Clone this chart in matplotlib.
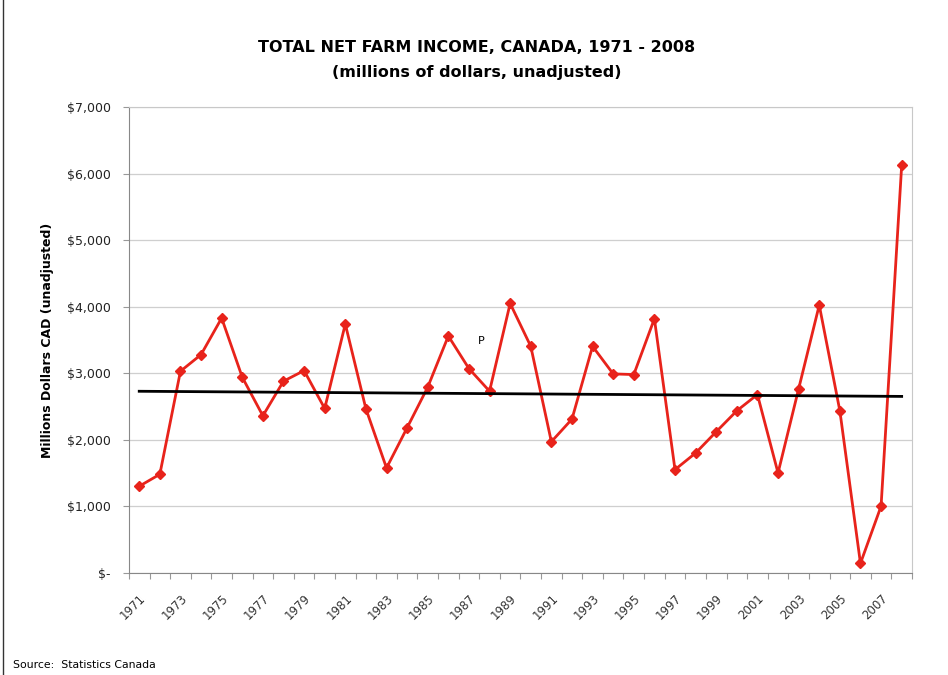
import numpy as np
import matplotlib.pyplot as plt
from matplotlib.lines import Line2D
from matplotlib.transforms import ScaledTranslation

years = list(range(1971, 2009))
income = [1300, 1480, 3030, 3280, 3830, 2940, 2360, 2880, 3040, 2470,
          3740, 2465, 1575, 2180, 2790, 3560, 3070, 2730, 4050, 3405,
          1970, 2310, 3405, 2990, 2980, 3820, 1550, 1800, 2120, 2435,
          2680, 1500, 2765, 4025, 2435, 140, 1000, 6125]
y_ticks = [0, 1000, 2000, 3000, 4000, 5000, 6000, 7000]
y_labels = ["$-", "$1,000", "$2,000", "$3,000", "$4,000", "$5,000", "$6,000", "$7,000"]

plt.rcParams['font.family'] = ['DejaVu Sans']

fig = plt.figure(figsize=(9.48, 6.75), dpi=100)
ax = fig.add_axes([0.136, 0.1516, 0.826, 0.6894])

x = np.arange(len(years))
ax.plot(x, income, color='#e8231b', lw=2, marker='D', markersize=5.5, zorder=3)

# linear trend line
coef = np.polyfit(x, income, 1)
ax.plot([x[0], x[-1]], np.polyval(coef, [x[0], x[-1]]), color='black', lw=2, zorder=4)

ax.text(16.6, 3480, "P", fontsize=8, ha='center', va='center')

ax.set_xlim(-0.5, len(years) - 0.5)
ax.set_ylim(0, 7000)
ax.set_yticks(y_ticks)
ax.set_yticklabels(y_labels, fontsize=9, color='#222222')
ax.yaxis.grid(True, color='#cfcfcf', lw=0.9)
ax.set_axisbelow(True)

# tick marks on category boundaries, labels every other year
ax.set_xticks(np.arange(-0.5, len(years), 1.0))
ax.set_xticklabels([])
ax.set_xticks(x[::2], minor=True)
ax.set_xticklabels([str(y) for y in years[::2]], minor=True, rotation=45,
                   ha='right', rotation_mode='anchor', fontsize=8.5, color='#333333')
for lbl in ax.get_xticklabels(minor=True):
    lbl.set_transform(lbl.get_transform() + ScaledTranslation(-0.07, 0, fig.dpi_scale_trans))
ax.tick_params(axis='x', which='major', length=4, color='#999999', direction='out')
ax.tick_params(axis='x', which='minor', length=0, pad=14)
ax.tick_params(axis='y', length=4, color='#999999', pad=9)

for side in ['top', 'right']:
    ax.spines[side].set_color('#c8c8c8')
for side in ['left', 'bottom']:
    ax.spines[side].set_color('#888888')

ax.set_ylabel("Millions Dollars CAD (unadjusted)", fontsize=9, fontweight='bold', labelpad=9)

fig.text(0.503, 0.929, "TOTAL NET FARM INCOME, CANADA, 1971 - 2008",
         ha='center', va='center', fontsize=11.5, fontweight='bold')
fig.text(0.503, 0.893, "(millions of dollars, unadjusted)",
         ha='center', va='center', fontsize=11.5, fontweight='bold')
fig.text(0.014, 0.015, "Source:  Statistics Canada", fontsize=7.8, ha='left', va='center')

fig.add_artist(Line2D([0.003, 0.003], [0, 1], color='#333333', lw=1, transform=fig.transFigure))

fig.savefig('out.png', dpi=100)
